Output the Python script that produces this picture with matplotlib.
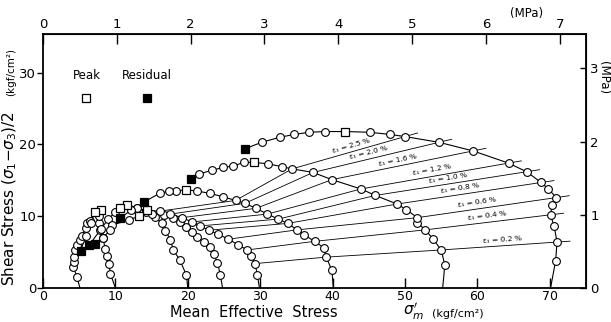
import numpy as np
import matplotlib
matplotlib.use("Agg")
import matplotlib.pyplot as plt

KGF_TO_MPA = 0.0980665

# effective stress paths, mean effective stress p' and shear stress q (kgf/cm2)
p_05 = [5.1, 4.7, 4.2, 4.25, 4.25, 4.35, 4.7, 5.1, 5.4, 5.9, 6.1, 6.55, 7.2, 6.6, 5.9, 5.2]
q_05 = [0.0, 1.5, 2.9, 3.65, 4.35, 5.3, 6.0, 6.7, 7.2, 8.3, 9.0, 9.4, 10.6, 9.0, 7.2, 5.2]

p_10 = [10.0, 9.3, 9.1, 8.85, 8.6, 8.3, 7.9, 7.8, 7.7, 8.0]
q_10 = [0.0, 2.0, 3.4, 4.4, 5.4, 6.9, 8.1, 9.0, 10.0, 10.9]

p_20 = [20.0, 19.8, 18.9, 18.0, 17.6, 16.9, 16.4, 15.5, 14.2, 13.0, 11.6, 10.7, 10.0, 9.0, 8.0, 6.4]
q_20 = [0.0, 1.8, 3.9, 5.3, 6.7, 8.0, 9.0, 9.9, 10.6, 11.2, 11.6, 11.2, 10.6, 9.6, 8.2, 6.0]

p_25 = [24.8, 24.5, 24.1, 23.6, 23.1, 22.2, 21.3, 20.6, 19.7, 18.9, 17.9, 16.7, 15.0, 13.2, 11.9, 9.5, 9.3, 8.3, 7.2]
q_25 = [0.0, 1.8, 3.5, 4.7, 5.65, 6.4, 7.1, 7.8, 8.5, 9.2, 9.8, 10.2, 10.3, 10.0, 9.5, 8.75, 8.1, 7.0, 6.2]

p_30 = [29.9, 29.6, 29.3, 28.7, 28.2, 27.0, 25.6, 24.2, 22.9, 21.7, 20.6, 19.2, 17.6, 16.1, 14.4, 13.0, 12.1, 10.6]
q_30 = [0.0, 1.8, 3.4, 4.4, 5.3, 6.0, 6.8, 7.5, 8.05, 8.65, 9.2, 9.8, 10.3, 10.7, 10.8, 11.1, 10.8, 9.7]

p_40 = [40.1, 39.9, 39.1, 38.8, 37.5, 36.1, 35.1, 33.8, 32.5, 31.0, 29.4, 27.9, 26.6, 24.9, 23.0, 21.3,
        19.7, 18.4, 17.4, 16.1, 14.0]
q_40 = [0.0, 2.5, 4.3, 5.6, 6.5, 7.4, 8.1, 9.0, 9.6, 10.3, 11.1, 11.8, 12.2, 12.7, 13.2, 13.5,
        13.7, 13.5, 13.5, 13.2, 12.0]

p_55 = [55.2, 55.5, 55.0, 53.9, 52.8, 51.7, 51.7, 50.2, 48.9, 45.9, 43.9, 39.9, 37.3, 34.4, 33.0, 31.1,
        29.1, 27.7, 26.3, 24.9, 23.3, 21.6, 20.5]
q_55 = [0.0, 3.2, 5.3, 6.8, 8.1, 9.1, 9.8, 10.9, 11.7, 12.9, 13.8, 15.1, 16.1, 16.6, 16.9, 17.3,
        17.5, 17.5, 17.0, 16.8, 16.4, 15.9, 15.2]

p_70 = [70.1, 70.8, 71.0, 70.6, 70.1, 70.3, 70.9, 69.8, 68.8, 66.8, 64.3, 59.4, 54.7, 50.0, 47.9, 45.1,
        41.7, 39.0, 36.8, 34.7, 32.7, 30.2, 27.9]
q_70 = [0.0, 3.75, 6.4, 8.6, 10.2, 11.5, 12.6, 13.8, 14.7, 16.2, 17.4, 19.1, 20.3, 21.1, 21.4, 21.7,
        21.8, 21.8, 21.7, 21.4, 21.0, 20.3, 19.4]

peak_p = [41.7, 29.1, 19.7, 14.4, 13.2, 11.6, 10.7, 8.0, 7.2]
peak_q = [21.8, 17.5, 13.7, 10.8, 10.0, 11.6, 11.2, 10.9, 10.6]
resid_p = [27.9, 20.5, 14.0, 10.6, 7.2, 6.4, 5.2]
resid_q = [19.4, 15.2, 12.0, 9.7, 6.2, 6.0, 5.2]

# equal axial strain contours: crossing points on the 30, 40, 55 and 70 kgf/cm2 paths
eps_levels = ["0.2", "0.4", "0.6", "0.8", "1.0", "1.2", "1.6", "2.0", "2.5"]
eps_p30 = [29.3, 28.2, 25.6, 22.9, 21.7, 20.6, 19.2, 17.6, 16.1]
eps_q30 = [3.4, 5.3, 6.8, 8.05, 8.65, 9.2, 9.8, 10.3, 10.7]
eps_p40 = [39.1, 37.5, 35.1, 33.8, 32.5, 31.0, 29.4, 27.9, 26.6]
eps_q40 = [4.3, 6.5, 8.1, 9.0, 9.6, 10.3, 11.1, 11.8, 12.2]
eps_p55 = [55.0, 52.8, 51.7, 48.9, 45.9, 43.9, 39.9, 37.3, 34.4]
eps_q55 = [5.3, 8.1, 9.8, 11.7, 12.9, 13.8, 15.1, 16.1, 16.6]
eps_p70 = [71.0, 70.1, 70.9, 68.8, 66.8, 64.3, 59.4, 54.7, 50.0]
eps_q70 = [6.4, 10.2, 12.6, 14.7, 16.2, 17.4, 19.1, 20.3, 21.1]
eps_label_p = [63.5, 61.3, 59.9, 57.6, 55.9, 53.7, 49.0, 45.0, 42.6]

paths = [(p_05, q_05), (p_10, q_10), (p_20, q_20), (p_25, q_25), (p_30, q_30),
         (p_40, q_40), (p_55, q_55), (p_70, q_70)]

fig = plt.figure(figsize=(6.11, 3.22), dpi=100)
ax = fig.add_axes([0.0704, 0.1056, 0.8887, 0.789])
ax.set_xlim(0, 75)
ax.set_ylim(0, 35.4)

lw = 0.8
for i, lev in enumerate(eps_levels):
    xs = np.array([eps_p30[i], eps_p40[i], eps_p55[i], eps_p70[i]])
    ys = np.array([eps_q30[i], eps_q40[i], eps_q55[i], eps_q70[i]])
    # run each contour a little past the outermost path
    d = np.array([xs[-1] - xs[-2], ys[-1] - ys[-2]])
    d = d / np.hypot(*d) * 1.8
    xs = np.append(xs, xs[-1] + d[0])
    ys = np.append(ys, ys[-1] + d[1])
    ax.plot(xs, ys, color="black", lw=0.6, zorder=1)

    # label sits just above the 55-70 segment, rotated with it
    lx = eps_label_p[i]
    ly = np.interp(lx, xs[2:4], ys[2:4])
    a = ax.transData.transform([(xs[2], ys[2]), (xs[3], ys[3])])
    ang = np.degrees(np.arctan2(a[1, 1] - a[0, 1], a[1, 0] - a[0, 0]))
    ax.text(lx, ly + 0.9, "ε₁ = " + lev + " %", fontsize=5.3, rotation=ang,
            rotation_mode="anchor", ha="center", va="center", zorder=6)

for p, q in paths:
    ax.plot(p, q, color="black", lw=lw, zorder=2)
    ax.plot(p[1:], q[1:], "o", ms=5.6, mfc="white", mec="black", mew=0.8, zorder=3)

ax.plot(peak_p, peak_q, "s", ms=6.2, mfc="white", mec="black", mew=0.9, zorder=4)
ax.plot(resid_p, resid_q, "s", ms=6.2, mfc="black", mec="black", mew=0.9, zorder=4)

# key
ax.plot([6.0], [26.5], "s", ms=6.2, mfc="white", mec="black", mew=0.9)
ax.plot([14.3], [26.5], "s", ms=6.2, mfc="black", mec="black", mew=0.9)
ax.text(6.0, 29.6, "Peak", fontsize=8.5, ha="center", va="center")
ax.text(14.3, 29.6, "Residual", fontsize=8.5, ha="center", va="center")

ax.set_xticks(np.arange(0, 80, 10))
ax.set_yticks(np.arange(0, 40, 10))
ax.tick_params(axis="x", direction="in", length=7, width=1.0, labelsize=9, pad=1.5)
ax.tick_params(axis="y", direction="out", length=4, width=1.0, labelsize=9.5, pad=1)
for s in ax.spines.values():
    s.set_linewidth(1.3)

top = ax.secondary_xaxis("top", functions=(lambda x: x * KGF_TO_MPA, lambda x: x / KGF_TO_MPA))
top.set_xticks(np.arange(0, 8, 1))
top.tick_params(direction="in", length=7, width=1.0, labelsize=9.5, pad=2)
right = ax.secondary_yaxis("right", functions=(lambda y: y * KGF_TO_MPA, lambda y: y / KGF_TO_MPA))
right.set_yticks(np.arange(0, 4, 1))
right.tick_params(direction="in", length=4, width=1.0, labelsize=9.5, pad=3)

fig.text(527 / 611, 1 - 13 / 322, "(MPa)", fontsize=8.5, ha="center", va="center")
fig.text(604 / 611, 1 - 78 / 322, "(MPa)", fontsize=8.5, ha="center", va="center", rotation=-90)

fig.text(170 / 611, 1 - 317 / 322, "Mean  Effective  Stress", fontsize=10.5, ha="left", va="baseline")
fig.text(403 / 611, 1 - 316 / 322, r"$\sigma_m^{\prime}$", fontsize=11, ha="left", va="baseline")
fig.text(432 / 611, 1 - 317 / 322, "(kgf/cm²)", fontsize=8, ha="left", va="baseline")

fig.text(9.5 / 611, 1 - 286 / 322, r"Shear Stress ($\sigma_1$$-$$\sigma_3$)/2", fontsize=11,
         rotation=90, ha="center", va="bottom")
fig.text(11 / 611, 1 - 96 / 322, "(kgf/cm²)", fontsize=7.5, rotation=90, ha="center", va="bottom")

fig.savefig("out.png", dpi=100)
